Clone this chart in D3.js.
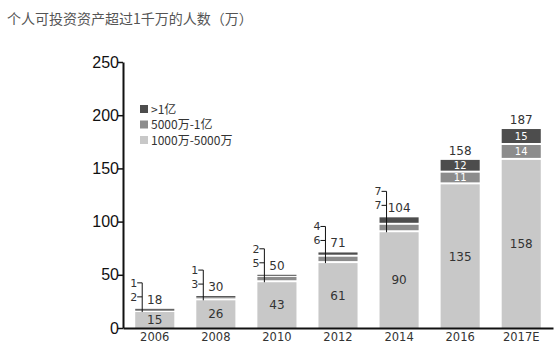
<!DOCTYPE html>
<html>
<head>
<meta charset="utf-8">
<script src="https://cdn.jsdelivr.net/npm/d3@7"></script>
<style>
  body { margin: 0; background: #fff; }
  svg { display: block; }
</style>
</head>
<body>
<svg id="chart" width="558" height="353"></svg>
<script>
// data (unit: 万人)
var years = ['2006', '2008', '2010', '2012', '2014', '2016', '2017E'];
var low = [15, 26, 43, 61, 90, 135, 158];   // 1000万-5000万
var mid = [2, 3, 5, 6, 7, 11, 14];          // 5000万-1亿
var high = [1, 1, 2, 4, 7, 12, 15];         // >1亿
var totals = [18, 30, 50, 71, 104, 158, 187];
var seriesNames = ['1000万-5000万', '5000万-1亿', '>1亿'];
var yTicks = [0, 50, 100, 150, 200, 250];
var title = '个人可投资资产超过1千万的人数（万）';

var colors = ['#c8c8c8', '#8c8c8c', '#4d4d4d'];
var svg = d3.select('#chart');

var rows = years.map(function (y, i) {
    return {year: y, low: low[i], mid: mid[i], high: high[i], total: totals[i]};
});
var stack = d3.stack().keys(['low', 'mid', 'high'])(rows);

var x = d3.scaleBand().domain(years).range([123, 553]).paddingInner(0.36).paddingOuter(0.2);
var y = d3.scaleLinear().domain([0, 250]).range([328, 62]);

// title
svg.append('text')
    .attr('x', 7).attr('y', 24)
    .attr('font-family', 'Noto Sans CJK SC, sans-serif')
    .attr('font-size', 14)
    .attr('fill', '#555')
    .text(title);

// bars
stack.forEach(function (s, k) {
    svg.append('g').selectAll('rect')
        .data(s)
        .join('rect')
        .attr('x', function (d) { return x(d.data.year); })
        .attr('width', x.bandwidth())
        .attr('y', function (d) { return y(d[1]); })
        .attr('height', function (d) {
            var h = y(d[0]) - y(d[1]) - (k > 0 ? 2 : 0);
            return Math.max(h, 1);
        })
        .attr('fill', colors[k]);
});

var lblFont = 'DejaVu Sans, Verdana, sans-serif';

// totals above every bar
svg.append('g').selectAll('text')
    .data(rows)
    .join('text')
    .attr('x', function (d) { return x(d.year) + x.bandwidth() / 2; })
    .attr('y', function (d) { return y(d.total) - 5; })
    .attr('text-anchor', 'middle')
    .attr('font-family', lblFont)
    .attr('font-size', 12)
    .attr('fill', '#333')
    .text(function (d) { return d.total; });

// inside labels (low always, mid/high only on big bars)
rows.forEach(function (d, i) {
    var cx = x(d.year) + x.bandwidth() / 2;
    var big = d.mid >= 10;
    var segs = [[0, d.low], [d.low, d.low + d.mid], [d.low + d.mid, d.total]];
    var vals = [d.low, d.mid, d.high];
    segs.forEach(function (s, k) {
        if (k > 0 && !big) return;
        var cy = k === 0 ? (y(s[0]) + y(s[1])) / 2 : (y(s[0]) - 2 + y(s[1])) / 2;
        svg.append('text')
            .attr('x', cx)
            .attr('y', cy)
            .attr('dy', '0.36em')
            .attr('text-anchor', 'middle')
            .attr('font-family', lblFont)
            .attr('font-size', k === 0 ? 12 : 10)
            .attr('fill', k === 0 ? '#333' : '#fff')
            .text(vals[k]);
    });

    if (big) return;
    // bracket with small values
    var lx = x(d.year) + 7;
    var top = y(d.total);
    var yh = top - 26, ym = top - 12;
    var g = svg.append('g').attr('stroke', '#111').attr('stroke-width', 1);
    g.append('line').attr('x1', lx).attr('x2', lx).attr('y1', yh).attr('y2', y(d.low));
    g.append('line').attr('x1', lx - 5).attr('x2', lx).attr('y1', yh).attr('y2', yh);
    g.append('line').attr('x1', lx - 5).attr('x2', lx).attr('y1', ym).attr('y2', ym);
    [[d.high, yh], [d.mid, ym]].forEach(function (p) {
        svg.append('text')
            .attr('x', lx - 5).attr('y', p[1] + 4)
            .attr('text-anchor', 'end')
            .attr('font-family', lblFont)
            .attr('font-size', 11)
            .attr('fill', '#333')
            .text(p[0]);
    });
});

// y axis
var yAxis = svg.append('g')
    .attr('transform', 'translate(123,0)')
    .call(d3.axisLeft(y).tickValues(yTicks).tickSize(5).tickSizeOuter(0));
yAxis.select('.domain').attr('stroke', '#111').attr('stroke-width', 2);
yAxis.selectAll('.tick line').attr('stroke', '#111').attr('stroke-width', 1.5);
yAxis.selectAll('.tick text')
    .attr('font-family', 'Liberation Sans, Arial, sans-serif')
    .attr('font-size', 16)
    .attr('fill', '#111')
    .attr('x', -4);

// x axis
var xAxis = svg.append('g')
    .attr('transform', 'translate(0,' + y(0) + ')')
    .call(d3.axisBottom(x).tickSize(0).tickSizeOuter(0));
xAxis.select('.domain').attr('stroke', '#111').attr('stroke-width', 2);
xAxis.selectAll('.tick text')
    .attr('font-family', lblFont)
    .attr('font-size', 11.5)
    .attr('fill', '#333')
    .attr('dy', '0.71em')
    .attr('y', 5);

// legend
var legend = svg.append('g').attr('transform', 'translate(140,109)');
[2, 1, 0].forEach(function (k, j) {
    var row = legend.append('g').attr('transform', 'translate(0,' + (j * 15.5) + ')');
    row.append('rect').attr('x', 0).attr('y', -4).attr('width', 8).attr('height', 8).attr('fill', colors[k]);
    row.append('text')
        .attr('x', 11).attr('y', 4.5)
        .attr('font-family', 'Noto Sans CJK SC, sans-serif')
        .attr('font-size', 12)
        .attr('fill', '#333')
        .text(seriesNames[k]);
});
</script>
</body>
</html>
